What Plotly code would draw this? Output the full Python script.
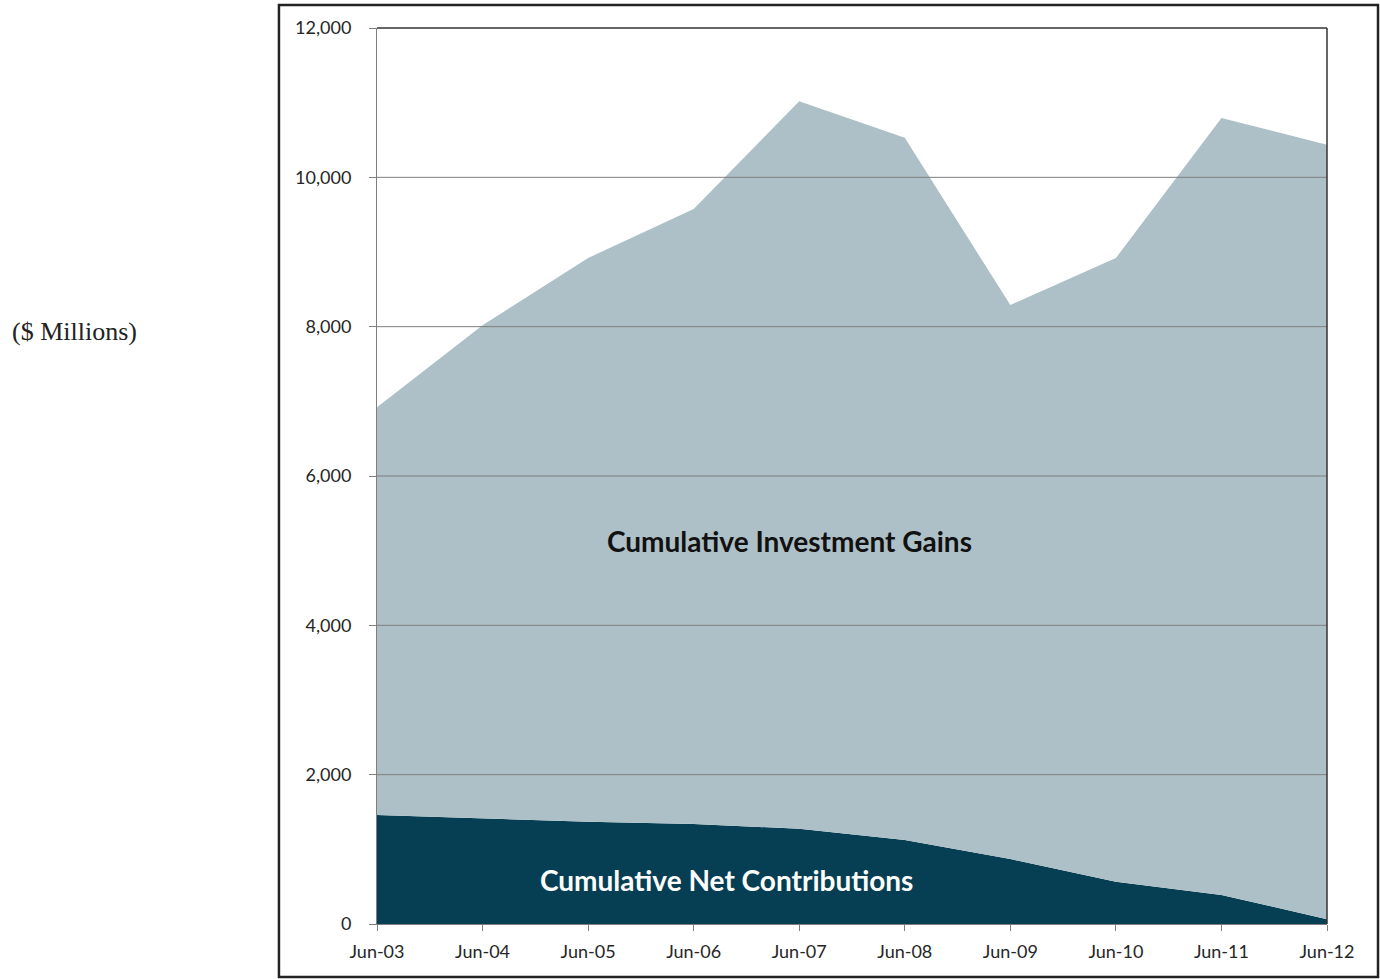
import plotly.graph_objects as go

categories = ["Jun-03", "Jun-04", "Jun-05", "Jun-06", "Jun-07",
              "Jun-08", "Jun-09", "Jun-10", "Jun-11", "Jun-12"]
net_contributions = [1460, 1410, 1370, 1340, 1275, 1125, 870, 565, 390, 65]
total_value = [6920, 8020, 8920, 9575, 11020, 10530, 8290, 8920, 10795, 10435]
investment_gains = [t - c for t, c in zip(total_value, net_contributions)]
y_ticks = [0, 2000, 4000, 6000, 8000, 10000, 12000]

DARK = "#063f53"
LIGHT = "#aec0c7"
GRID = "#7f7f7f"

fig = go.Figure()
fig.add_trace(go.Scatter(
    x=categories, y=net_contributions, mode="lines", stackgroup="one",
    line=dict(width=0, color=DARK), fillcolor=DARK, name="Cumulative Net Contributions",
    hoverinfo="x+y"))
fig.add_trace(go.Scatter(
    x=categories, y=investment_gains, mode="lines", stackgroup="one",
    line=dict(width=0, color=LIGHT), fillcolor=LIGHT, name="Cumulative Investment Gains",
    hoverinfo="x+y"))

tick_font = dict(family="Lato, Carlito, Calibri, sans-serif", size=18, color="#262626")

grid_shapes = [
    dict(type="line", xref="paper", yref="y", x0=0, x1=1, y0=v, y1=v,
         line=dict(color=GRID, width=1), layer="above")
    for v in y_ticks[1:-1]
]

fig.update_layout(
    width=1380, height=979,
    margin=dict(l=377, r=53, t=28, b=55),
    paper_bgcolor="white", plot_bgcolor="white",
    showlegend=False,
    xaxis=dict(
        type="category", range=[0, 9],
        showgrid=False, showline=True, linecolor=GRID, linewidth=1,
        ticks="outside", ticklen=6, tickcolor=GRID,
        tickfont=tick_font, ticklabelstandoff=5, zeroline=False,
        layer="above traces",
    ),
    yaxis=dict(
        range=[0, 12000], tickvals=y_ticks,
        ticktext=[f"{v:,}" for v in y_ticks],
        showgrid=False,
        showline=True, linecolor=GRID, linewidth=1,
        ticks="outside", ticklen=7, tickcolor=GRID,
        tickfont=tick_font, ticklabelstandoff=14, zeroline=False,
        layer="above traces",
    ),
    annotations=[
        dict(x=3.91, y=5130, xref="x", yref="y", text="<b>Cumulative Investment Gains</b>",
             showarrow=False, font=dict(family="Lato, Carlito, sans-serif", size=28, color="#111111")),
        dict(x=3.31, y=590, xref="x", yref="y", text="<b>Cumulative Net Contributions</b>",
             showarrow=False, font=dict(family="Lato, Carlito, sans-serif", size=28, color="white")),
        dict(x=-0.318, y=0.661, xref="paper", yref="paper", xanchor="center", yanchor="middle",
             text="($ Millions)", showarrow=False,
             font=dict(family="Liberation Serif, DejaVu Serif, serif", size=26, color="#222222")),
    ],
    shapes=grid_shapes + [
        # outer chart border
        dict(type="rect", xref="paper", yref="paper", x0=-0.1032, x1=1.0537, y0=-0.0592, y1=1.0257,
             line=dict(color="#222222", width=2.5)),
        # top and right plot frame
        dict(type="line", xref="paper", yref="paper", x0=0, x1=1, y0=1, y1=1,
             line=dict(color="#333333", width=1.5)),
        dict(type="line", xref="paper", yref="paper", x0=1, x1=1, y0=0, y1=1,
             line=dict(color="#333333", width=1.5)),
    ],
)

fig.write_html("out.html")
